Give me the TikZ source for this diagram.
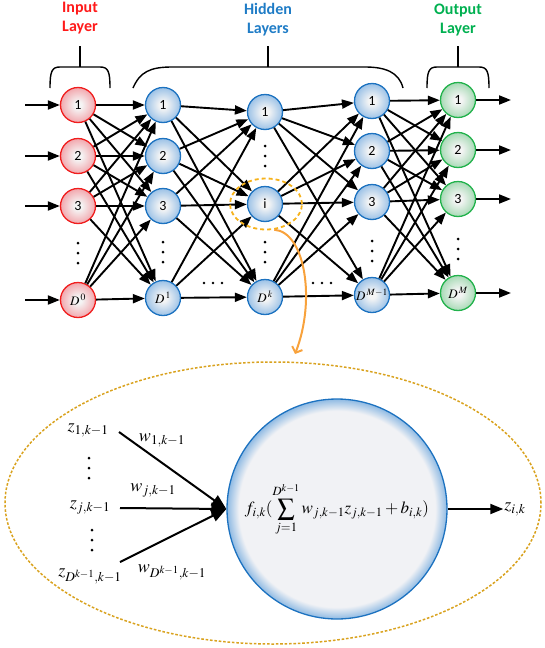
\documentclass[tikz,border=0pt]{standalone}
\usepackage{mathptmx}
\usepackage[no-math]{fontspec}
\newfontfamily\lab{Carlito}
\usetikzlibrary{arrows.meta,shapes.geometric}
\definecolor{inred}{HTML}{FF1A1A}
\definecolor{hidblue}{HTML}{1F7CC6}
\definecolor{outgreen}{HTML}{00B050}
\definecolor{bordblue}{HTML}{1C72C0}
\definecolor{bordred}{HTML}{F01E1E}
\definecolor{bordgreen}{HTML}{22B24C}
\definecolor{shblue}{HTML}{9CC2E7}
\definecolor{shred}{HTML}{F2A8AE}
\definecolor{shgreen}{HTML}{A8DAB6}
\definecolor{ctr}{HTML}{F5F5F5}
\definecolor{bigin}{HTML}{F1F2F5}
\definecolor{bigout}{HTML}{8FBAE3}
\definecolor{selor}{HTML}{F6B21B}
\definecolor{curor}{HTML}{F8A23C}
\definecolor{goldd}{HTML}{D9A21E}
\pgfdeclareradialshading{ballblue}{\pgfpointorigin}{color(0bp)=(ctr); color(5bp)=(ctr); color(25bp)=(shblue); color(50bp)=(shblue)}
\pgfdeclareradialshading{ballred}{\pgfpointorigin}{color(0bp)=(ctr); color(5bp)=(ctr); color(25bp)=(shred); color(50bp)=(shred)}
\pgfdeclareradialshading{ballgreen}{\pgfpointorigin}{color(0bp)=(ctr); color(5bp)=(ctr); color(25bp)=(shgreen); color(50bp)=(shgreen)}
\pgfdeclareradialshading{bigball}{\pgfpointorigin}{color(0bp)=(bigin); color(22.3bp)=(bigin); color(25bp)=(bigout); color(50bp)=(bigout)}
\begin{document}
\begin{tikzpicture}[x=1pt,y=-1pt,
  neuron/.style={circle, minimum size=35pt, inner sep=0pt, line width=1.3pt, font=\lab\fontsize{14}{14}\selectfont},
  nb/.style={neuron, draw=bordblue, shade, shading=ballblue},
  nr/.style={neuron, draw=bordred, shade, shading=ballred},
  ng/.style={neuron, draw=bordgreen, shade, shading=ballgreen},
  conn/.style={line width=1.9pt, -{Triangle[length=12pt,width=9pt]}},
  bigconn/.style={line width=2pt, -{Triangle[length=15pt,width=12pt]}},
  brace/.style={line width=1.4pt},
  title/.style={align=center, font=\lab\bfseries\fontsize{16}{19}\selectfont},
  dnode/.style={font=\fontsize{13}{13}\selectfont},
  bm/.style={font=\fontsize{18}{21}\selectfont, inner sep=1pt},
  dot/.style={fill=black}
]
\useasboundingbox (0,0) rectangle (544,648);

% titles
\node[title, text=inred] (tin) at (80,18) {Input\\Layer};
\node[title, text=hidblue] (thid) at (268,20) {Hidden\\Layers};
\node[title, text=outgreen] (tout) at (458,20) {Output\\Layer};

% brackets
\draw[brace] (50,88) .. controls (50,71) and (52,67) .. (60,67) -- (100,67) .. controls (108,67) and (110,71) .. (110,88);
\draw[brace] (80,46) -- (80,67);
\draw[brace] (133,88) .. controls (140,72) and (150,67) .. (172,67) -- (365,67) .. controls (385,67) and (399,72) .. (403,88);
\draw[brace] (268,46) -- (268,67);
\draw[brace] (427,88) .. controls (427,71) and (429,67) .. (437,67) -- (479,67) .. controls (487,67) and (489,71) .. (489,88);
\draw[brace] (458,46) -- (458,67);

% neurons
\node[nr] (in1) at (78,105) {1};
\node[nr] (in2) at (78,156) {2};
\node[nr] (in3) at (78,206) {3};
\node[nr,dnode] (in4) at (78,300) {$D^{\,0}$};
\node[nb] (h1) at (163,105) {1};
\node[nb] (h2) at (163,156) {2};
\node[nb] (h3) at (163,206) {3};
\node[nb,dnode] (h4) at (163,298) {$D^{\,1}$};
\node[nb] (k1) at (265,112) {1};
\node[nb] (k2) at (265,204) {i};
\node[nb,dnode] (k3) at (265,297) {$D^{\,k}$};
\node[nb] (m1) at (372,101) {1};
\node[nb] (m2) at (372,151) {2};
\node[nb] (m3) at (372,202) {3};
\node[nb,dnode] (m4) at (372,295) {$D^{\,M-1}$};
\node[ng] (o1) at (458,100) {1};
\node[ng] (o2) at (458,150) {2};
\node[ng] (o3) at (458,199) {3};
\node[ng,dnode] (o4) at (458,293) {$D^{\,M}$};

% input / output arrows
\foreach \n/\y in {1/105,2/156,3/206,4/300} {
  \coordinate (s\n) at (25,\y);
  \draw[conn] (s\n) -- (in\n);
}
\foreach \n/\y in {1/100,2/150,3/199,4/293} {
  \coordinate (e\n) at (511,\y);
  \draw[conn] (o\n) -- (e\n);
}

% full connections
\foreach \a in {in1,in2,in3,in4} \foreach \b in {h1,h2,h3,h4} \draw[conn] (\a) -- (\b);
\foreach \a in {h1,h2,h3,h4} \foreach \b in {k1,k2,k3} \draw[conn] (\a) -- (\b);
\foreach \a in {k1,k2,k3} \foreach \b in {m1,m2,m3,m4} \draw[conn] (\a) -- (\b);
\foreach \a in {m1,m2,m3,m4} \foreach \b in {o1,o2,o3,o4} \draw[conn] (\a) -- (\b);

% vertical dots
\foreach \x/\y in {78/253,163/252,265/156,265/252,372/251,458/249} {
  \foreach \d in {-10,0,10} \fill[dot] (\x,\y+\d) circle (1.5pt);
}
% horizontal dots
\foreach \x/\y in {213/283,322/283} {
  \foreach \d in {-9,0,9} \fill[dot] (\x+\d,\y) circle (1.4pt);
}

% selection ellipse and zoom arrow
\node[ellipse, draw=selor, line width=1.8pt, dash pattern=on 4pt off 3pt, minimum width=72pt, minimum height=51pt, inner sep=0pt] (sel) at (266,204) {};
\node[ellipse, draw=goldd, line width=1.5pt, dash pattern=on 2.6pt off 1.8pt, minimum width=536pt, minimum height=282pt, inner sep=0pt] (zoomell) at (273,503) {};
\coordinate (ztip) at (295,354);
\draw[curor, line width=2pt, -{Straight Barb[length=5pt,width=11pt]}] (sel.-72) .. controls (305,232) and (316,300) .. (ztip);

% zoomed neuron
\node[circle, minimum size=220pt, inner sep=0pt, draw=bordblue, line width=1.3pt, shade, shading=bigball, font=\fontsize{17}{20}\selectfont] (big) at (337,509)
  {$\displaystyle f_{i,k}(\sum_{j=1}^{D^{k-1}} w_{j,k-1} z_{j,k-1} + b_{i,k})$};

\node[bm] (z1) at (88,430) {$z_{1,k-1}$};
\node[bm] (zj) at (90,507) {$z_{j,k-1}$};
\node[bm] (zD) at (90,576) {$z_{D^{k-1},k-1}$};
\foreach \x/\y in {89/458,92/530} {
  \foreach \d in {0,10,20} \fill[dot] (\x,\y+\d) circle (1.5pt);
}
\coordinate (l1) at (119,432);
\coordinate (l2) at (120,508);
\coordinate (l3) at (120,562);
\draw[bigconn] (l1) -- (big.west);
\draw[bigconn] (l2) -- (big.west);
\draw[bigconn] (l3) -- (big.west);
\node[bm] (w1) at (162,440) {$w_{1,k-1}$};
\node[bm] (wj) at (153,490) {$w_{j,k-1}$};
\node[bm] (wD) at (172,572) {$w_{D^{k-1},k-1}$};

\node[bm] (zout) at (515,509) {$z_{i,k}$};
\draw[line width=1.9pt, -{Triangle[length=13pt,width=10pt]}] (big.east) -- (zout.west);
\end{tikzpicture}
\end{document}
